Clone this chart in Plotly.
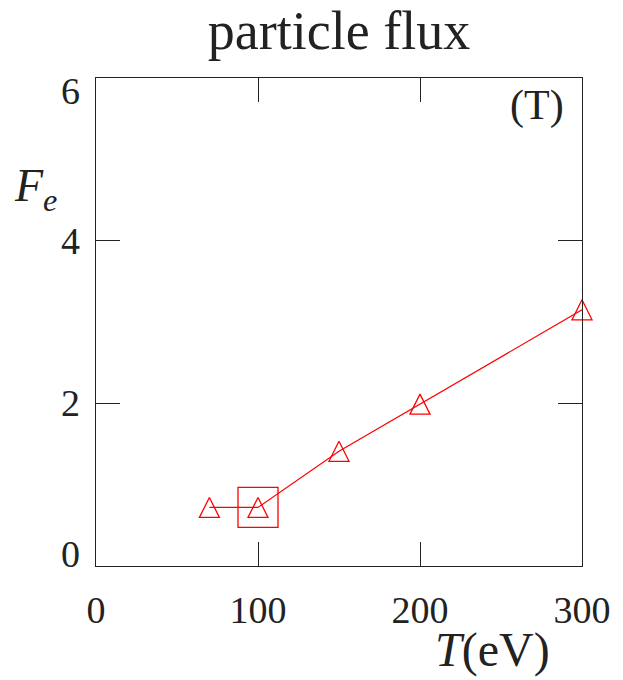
import plotly.graph_objects as go

# ---- data ----
T_EV = [70, 100, 150, 200, 300]
FLUX = [0.72, 0.72, 1.41, 1.99, 3.15]
HIGHLIGHT_T = [100]
HIGHLIGHT_F = [0.72]

X_TICKS = [0, 100, 200, 300]
X_TICK_LABELS = ["0", "100", "200", "300"]
Y_TICKS = [0, 2, 4, 6]
Y_TICK_LABELS = ["0", "2", "4", "6"]

TITLE = "particle flux"
PANEL_TAG = "(T)"

FONT = "Liberation Serif"
INK = "#222222"
RED = "#ff0000"

fig = go.Figure()

fig.add_trace(go.Scatter(
    x=T_EV, y=FLUX, mode="lines+markers",
    line=dict(color=RED, width=1.2),
    marker=dict(symbol="arrow-down-open", angle=180, standoff=10, size=20,
                color=RED, line=dict(color=RED, width=1.3)),
    showlegend=False, cliponaxis=False,
))
fig.add_trace(go.Scatter(
    x=HIGHLIGHT_T, y=HIGHLIGHT_F, mode="markers",
    marker=dict(symbol="square-open", size=40, color=RED,
                line=dict(color=RED, width=1.3)),
    showlegend=False, cliponaxis=False,
))

axis_common = dict(
    showline=True, linecolor=INK, linewidth=1.2, mirror="ticks",
    ticks="inside", ticklen=24, tickwidth=1.2, tickcolor=INK,
    showgrid=False, zeroline=False,
)

fig.update_xaxes(range=[0, 300], tickmode="array", tickvals=X_TICKS,
                 ticktext=X_TICK_LABELS,
                 tickfont=dict(family=FONT, size=38, color=INK),
                 ticklabelstandoff=10, **axis_common)
fig.update_yaxes(range=[0, 6], tickmode="array", tickvals=Y_TICKS,
                 showticklabels=False, **axis_common)

annotations = []
# y tick labels (end labels nudged inside the frame, as in the original)
for i, (v, lab) in enumerate(zip(Y_TICKS, Y_TICK_LABELS)):
    shift = 0
    if i == 0:
        shift = 12
    elif i == len(Y_TICKS) - 1:
        shift = -13
    annotations.append(dict(
        x=0, xref="paper", y=v, yref="y", text=lab, showarrow=False,
        xanchor="right", yanchor="middle", xshift=-14, yshift=shift,
        font=dict(family=FONT, size=38, color=INK),
    ))

annotations.append(dict(
    x=0.815, xref="paper", y=-0.172, yref="paper",
    text="<i>T</i>(eV)", showarrow=False, xanchor="center", yanchor="middle",
    font=dict(family=FONT, size=48, color=INK),
))
annotations.append(dict(
    x=-0.125, xref="paper", y=0.772, yref="paper",
    text="<i>F</i><sub><i>e</i></sub>", showarrow=False,
    xanchor="center", yanchor="middle",
    font=dict(family=FONT, size=46, color=INK),
))
annotations.append(dict(
    x=0.908, xref="paper", y=0.943, yref="paper",
    text=PANEL_TAG, showarrow=False, xanchor="center", yanchor="middle",
    font=dict(family=FONT, size=42, color=INK),
))

fig.update_layout(
    width=623, height=680,
    margin=dict(l=96, r=39, t=78, b=114),
    paper_bgcolor="white", plot_bgcolor="white",
    title=dict(text=TITLE, x=0.5, xref="paper", y=1 - 30 / 680,
               yref="container", xanchor="center", yanchor="middle",
               font=dict(family=FONT, size=54, color=INK)),
    annotations=annotations,
)

fig.write_html("out.html")
